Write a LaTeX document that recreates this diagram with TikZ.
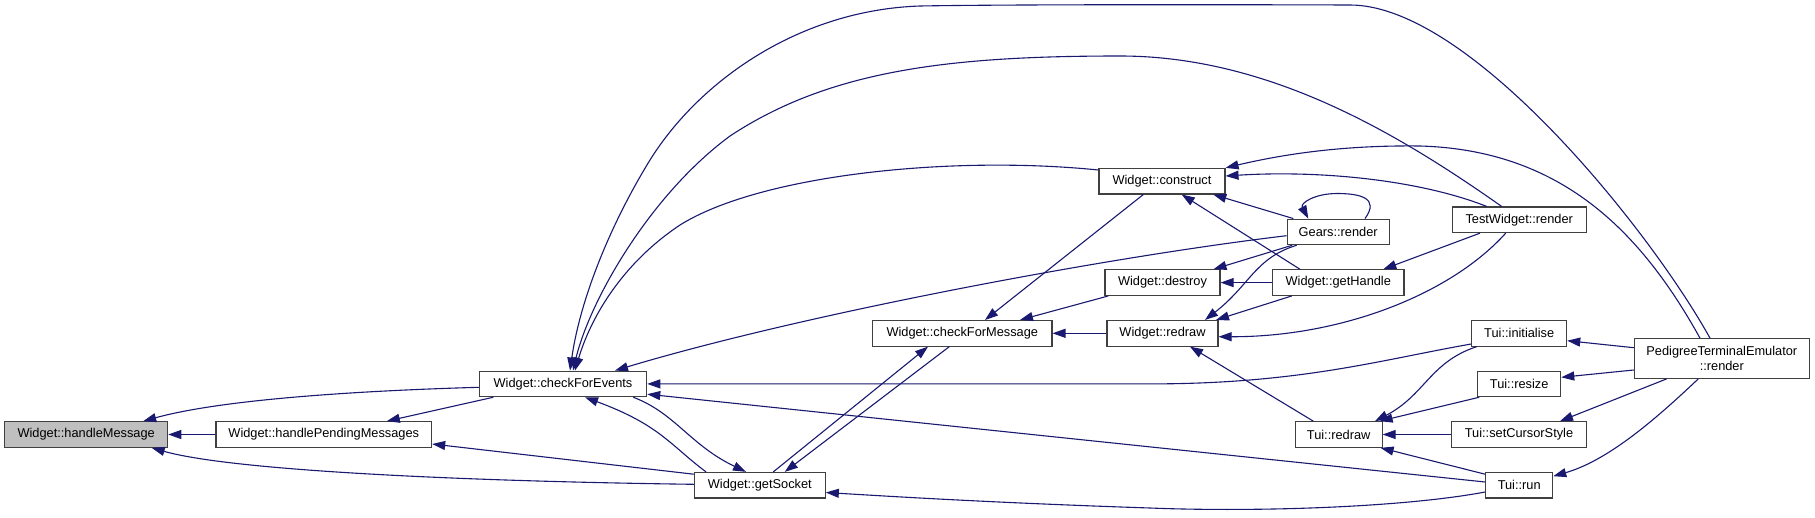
\documentclass[tikz,border=0pt]{standalone}
\usepackage{fontspec}
\setmainfont{Liberation Sans}
\usetikzlibrary{arrows.meta}
\definecolor{edgecol}{HTML}{191970}
\definecolor{boxline}{HTML}{404040}
\definecolor{hmfill}{HTML}{BFBFBF}
\begin{document}
\begin{tikzpicture}[x=1pt,y=-1pt,
  box/.style={draw=boxline,line width=1.1pt,fill=white,minimum height=25.6pt,inner sep=0pt,
              font=\fontsize{12.8}{15}\selectfont,anchor=center,align=center},
  e/.style={draw=edgecol,line width=1.1pt,-{Triangle[length=13pt,width=9pt]}}]
\fill[white] (0,0) rectangle (1815,517);
\useasboundingbox (0,0) rectangle (1815,517);

% nodes
\node[box,fill=hmfill,minimum width=163pt] (hm) at (86.2,434.5) {Widget::handleMessage};
\node[box,minimum width=215.7pt] (hpm) at (323.8,434.5) {Widget::handlePendingMessages};
\node[box,minimum width=167.4pt] (cfe) at (563,383.9) {Widget::checkForEvents};
\node[box,minimum width=131pt] (gs) at (759.8,485.2) {Widget::getSocket};
\node[box,minimum width=179.3pt] (cfm) at (962.3,333.3) {Widget::checkForMessage};
\node[box,minimum width=111pt] (wr) at (1162.5,333.3) {Widget::redraw};
\node[box,minimum width=126pt] (con) at (1162,181.2) {Widget::construct};
\node[box,minimum width=102.3pt] (gr) at (1338.2,231.9) {Gears::render};
\node[box,minimum width=115pt] (des) at (1162.5,282.6) {Widget::destroy};
\node[box,minimum width=131.3pt] (gh) at (1338.3,282.6) {Widget::getHandle};
\node[box,minimum width=133.7pt] (tw) at (1519.2,219.8) {TestWidget::render};
\node[box,minimum width=95pt] (ti) at (1519.2,333.3) {Tui::initialise};
\node[box,minimum width=83pt] (trs) at (1519.2,383.9) {Tui::resize};
\node[box,minimum width=134.6pt] (tcs) at (1519,434.5) {Tui::setCursorStyle};
\node[box,minimum width=86.7pt] (trd) at (1338.7,434.5) {Tui::redraw};
\node[box,minimum width=67pt] (trun) at (1519.2,485.2) {Tui::run};
\node[box,minimum width=175pt,minimum height=39.6pt] (pte) at (1721.8,358.5) {PedigreeTerminalEmulator\\::render};

% edges (caller -> callee, arrow at callee)
\draw[e] (hpm.west) -- (hm.east);
\draw[e] ([yshift=-3.4pt]cfe.west) .. controls (350,391) and (220,400) .. ([xshift=57pt]hm.north);
\draw[e] ([yshift=0.9pt]gs.west) .. controls (450,481) and (230,470) .. ([xshift=65.5pt]hm.south);
\draw[e] ([xshift=-69.7pt]cfe.south) -- ([xshift=63pt]hpm.north);
\draw[e] ([yshift=11pt]gs.west) -- ([yshift=-9.5pt]hpm.east);
\draw[e] ([xshift=70.3pt]cfe.south) .. controls (675,413) and (690,445) .. ([xshift=-13.8pt]gs.north);
\draw[e] ([xshift=-53.8pt]gs.north) .. controls (670,445) and (660,425) .. ([xshift=22pt]cfe.south);
% big arcs into checkForEvents
\draw[e] ([yshift=11.2pt]con.west) .. controls (950,155) and (760,175) .. (680,225)
   .. controls (620,265) and (590,320) .. ([xshift=12pt]cfe.north);
\draw[e] ([xshift=-17.5pt]tw.north) .. controls (1400,135) and (1270,56) .. (1120,56)
   .. controls (950,56) and (830,70) .. (730,136)
   .. controls (650,195) and (590,300) .. ([xshift=10pt]cfe.north);
\draw[e] ([xshift=-11.8pt]pte.north) .. controls (1650,230) and (1470,5) .. (1350,5)
   .. controls (1200,4.5) and (1000,4.5) .. (920,6)
   .. controls (800,10) and (700,80) .. (650,160)
   .. controls (610,225) and (580,300) .. ([xshift=7pt]cfe.north);
\draw[e] ([yshift=-3.8pt]gr.west) .. controls (1100,258) and (800,315) .. ([xshift=52pt]cfe.north);
\draw[e] ([yshift=-10.7pt]ti.west) .. controls (1380,360) and (1300,383.9) .. (1150,383.9) -- (cfe.east);
\draw[e] ([yshift=3.2pt]trun.west) -- ([yshift=-10.3pt]cfe.east);
\draw[e] ([yshift=-6.8pt]trun.west) .. controls (1400,508) and (1250,512) .. (1150,508)
   .. controls (1000,503) and (900,497) .. ([yshift=-7.3pt]gs.east);
% getSocket / checkForMessage
\draw[e] ([xshift=-13pt]cfm.south) -- ([xshift=25pt]gs.north);
\draw[e] ([xshift=13.5pt]gs.north) -- ([xshift=-34.3pt]cfm.south);
\draw[e] ([xshift=-18.7pt]con.south) -- ([xshift=22.7pt]cfm.north);
\draw[e] ([xshift=-54.2pt]des.south) -- ([xshift=57.7pt]cfm.north);
\draw[e] (wr.west) -- (cfm.east);
% construct
\draw[e] ([xshift=-44.9pt]gr.north) -- ([xshift=51.3pt]con.south);
\draw[e] ([xshift=-38.3pt]gh.north) -- ([xshift=19.7pt]con.south);
\draw[e] ([xshift=-21.8pt]pte.north) .. controls (1640,230) and (1560,150) .. (1420,146)
   .. controls (1340,145) and (1280,155) .. (con.north east);
\draw[e] ([xshift=-32.5pt]tw.north) .. controls (1420,180) and (1320,170) .. ([yshift=5.2pt]con.east);
% destroy
\draw[e] ([xshift=-46pt]gr.south) -- ([xshift=51pt]des.north);
\draw[e] (gh.west) -- (des.east);
% self loop
\draw[e] ([xshift=26.8pt]gr.north) .. controls (1380,198) and (1360,193.5) .. (1337,193.5)
   .. controls (1315,193.5) and (1300,203) .. ([xshift=-29.9pt]gr.north);
% Widget::redraw
\draw[e] ([xshift=-41.5pt]gr.south) .. controls (1255,258) and (1250,285) .. ([xshift=42.5pt]wr.north);
\draw[e] ([xshift=-46.6pt]gh.south) -- ([xshift=53.5pt]wr.north);
\draw[e] ([xshift=-13.5pt]tw.south) .. controls (1450,295) and (1340,337) .. ([yshift=-3.4pt]wr.east);
\draw[e] ([xshift=-25.4pt]trd.north) -- ([xshift=27.5pt]wr.south);
% getHandle
\draw[e] ([xshift=-39.2pt]tw.south) -- ([xshift=45pt]gh.north);
% Tui::redraw
\draw[e] ([xshift=-42.5pt]ti.south) .. controls (1430,362) and (1425,395) .. ([xshift=36.3pt]trd.north);
\draw[e] ([xshift=-40pt]trs.south) -- ([xshift=-3pt]trd.north east);
\draw[e] (tcs.west) -- (trd.east);
\draw[e] ([yshift=11pt]trun.west) -- ([xshift=-2pt]trd.south east);
% Pedigree
\draw[e] ([yshift=10.8pt]pte.west) -- ([yshift=-7.4pt]ti.east);
\draw[e] ([yshift=-11.5pt]pte.west) -- ([yshift=6.6pt]trs.east);
\draw[e] ([xshift=-55.1pt]pte.south) -- ([xshift=41pt]tcs.north);
\draw[e] ([xshift=-23.5pt]pte.south) .. controls (1660,415) and (1610,460) .. ([yshift=9pt]trun.east);
\end{tikzpicture}
\end{document}
